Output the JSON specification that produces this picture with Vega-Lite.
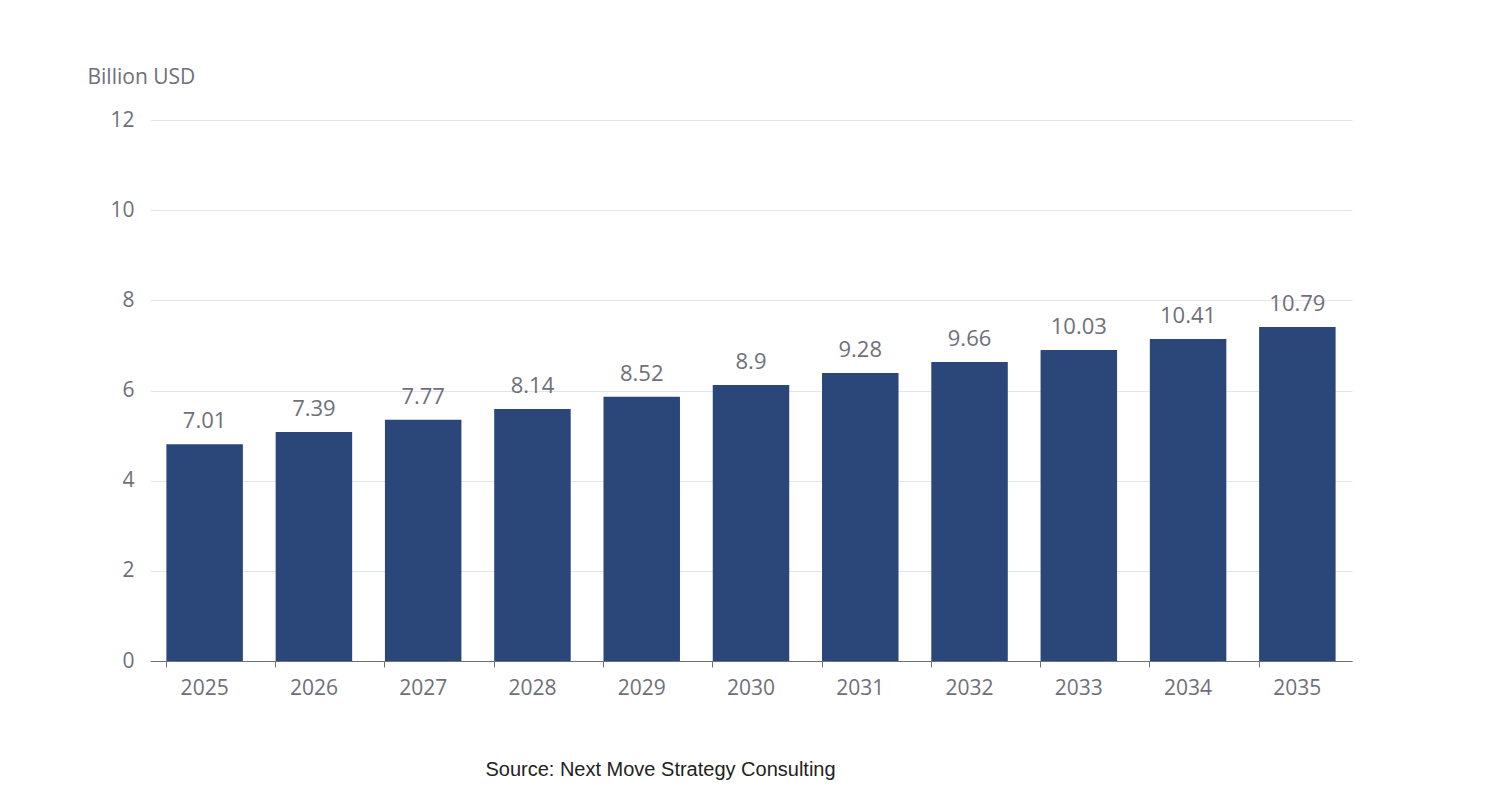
{
  "$schema": "https://vega.github.io/schema/vega-lite/v6.json",
  "autosize": "none",
  "padding": {"left": 150, "top": 120, "right": 150, "bottom": 139},
  "width": 1202,
  "height": 541,
  "background": "#ffffff",
  "title": {"text": "Europe Electric Shaver Market Revenue", "font": "Open Sans", "fontSize": 30, "fontWeight": "bold", "color": "#464646", "anchor": "middle", "baseline": "middle", "offset": 0, "dy": -98},
  "config": {"view": {"stroke": null}, "font": "Open Sans"},
  "data": {"values": [
    {"year": "2025", "bar": 4.81, "label": "7.01"},
    {"year": "2026", "bar": 5.08, "label": "7.39"},
    {"year": "2027", "bar": 5.35, "label": "7.77"},
    {"year": "2028", "bar": 5.59, "label": "8.14"},
    {"year": "2029", "bar": 5.86, "label": "8.52"},
    {"year": "2030", "bar": 6.12, "label": "8.9"},
    {"year": "2031", "bar": 6.39, "label": "9.28"},
    {"year": "2032", "bar": 6.63, "label": "9.66"},
    {"year": "2033", "bar": 6.9, "label": "10.03"},
    {"year": "2034", "bar": 7.14, "label": "10.41"},
    {"year": "2035", "bar": 7.41, "label": "10.79"}
  ]},
  "encoding": {
    "x": {"field": "year", "type": "ordinal", "scale": {"paddingInner": 0.3, "paddingOuter": 0.15},
      "axis": {"labelAngle": 0, "labelFontSize": 21, "labelColor": "#6e7079", "labelPadding": 10, "domainColor": "#6e7079", "tickColor": "#6e7079", "tickSize": 6, "bandPosition": 0, "title": "Source: Next Move Strategy Consulting", "titleFont": "Liberation Sans", "titleFontSize": 20, "titleFontWeight": "normal", "titleColor": "#222222", "titleX": 510, "titleY": 114, "titleBaseline": "alphabetic"}},
    "y": {"field": "bar", "type": "quantitative", "scale": {"domain": [0, 12]},
      "axis": {"values": [0, 2, 4, 6, 8, 10, 12], "domain": false, "ticks": false, "labelFontSize": 21, "labelColor": "#6e7079", "labelPadding": 16, "gridColor": "#e0e6f1", "title": "Billion USD", "titleAngle": 0, "titleAlign": "left", "titleX": -63, "titleY": -37, "titleBaseline": "alphabetic", "titleFontSize": 21, "titleFontWeight": "normal", "titleColor": "#6e7079"}}
  },
  "layer": [
    {"mark": {"type": "bar", "color": "#2b4679"}},
    {"mark": {"type": "text", "dy": -23, "fontSize": 22, "color": "#6e7079"}, "encoding": {"text": {"field": "label"}}}
  ]
}
